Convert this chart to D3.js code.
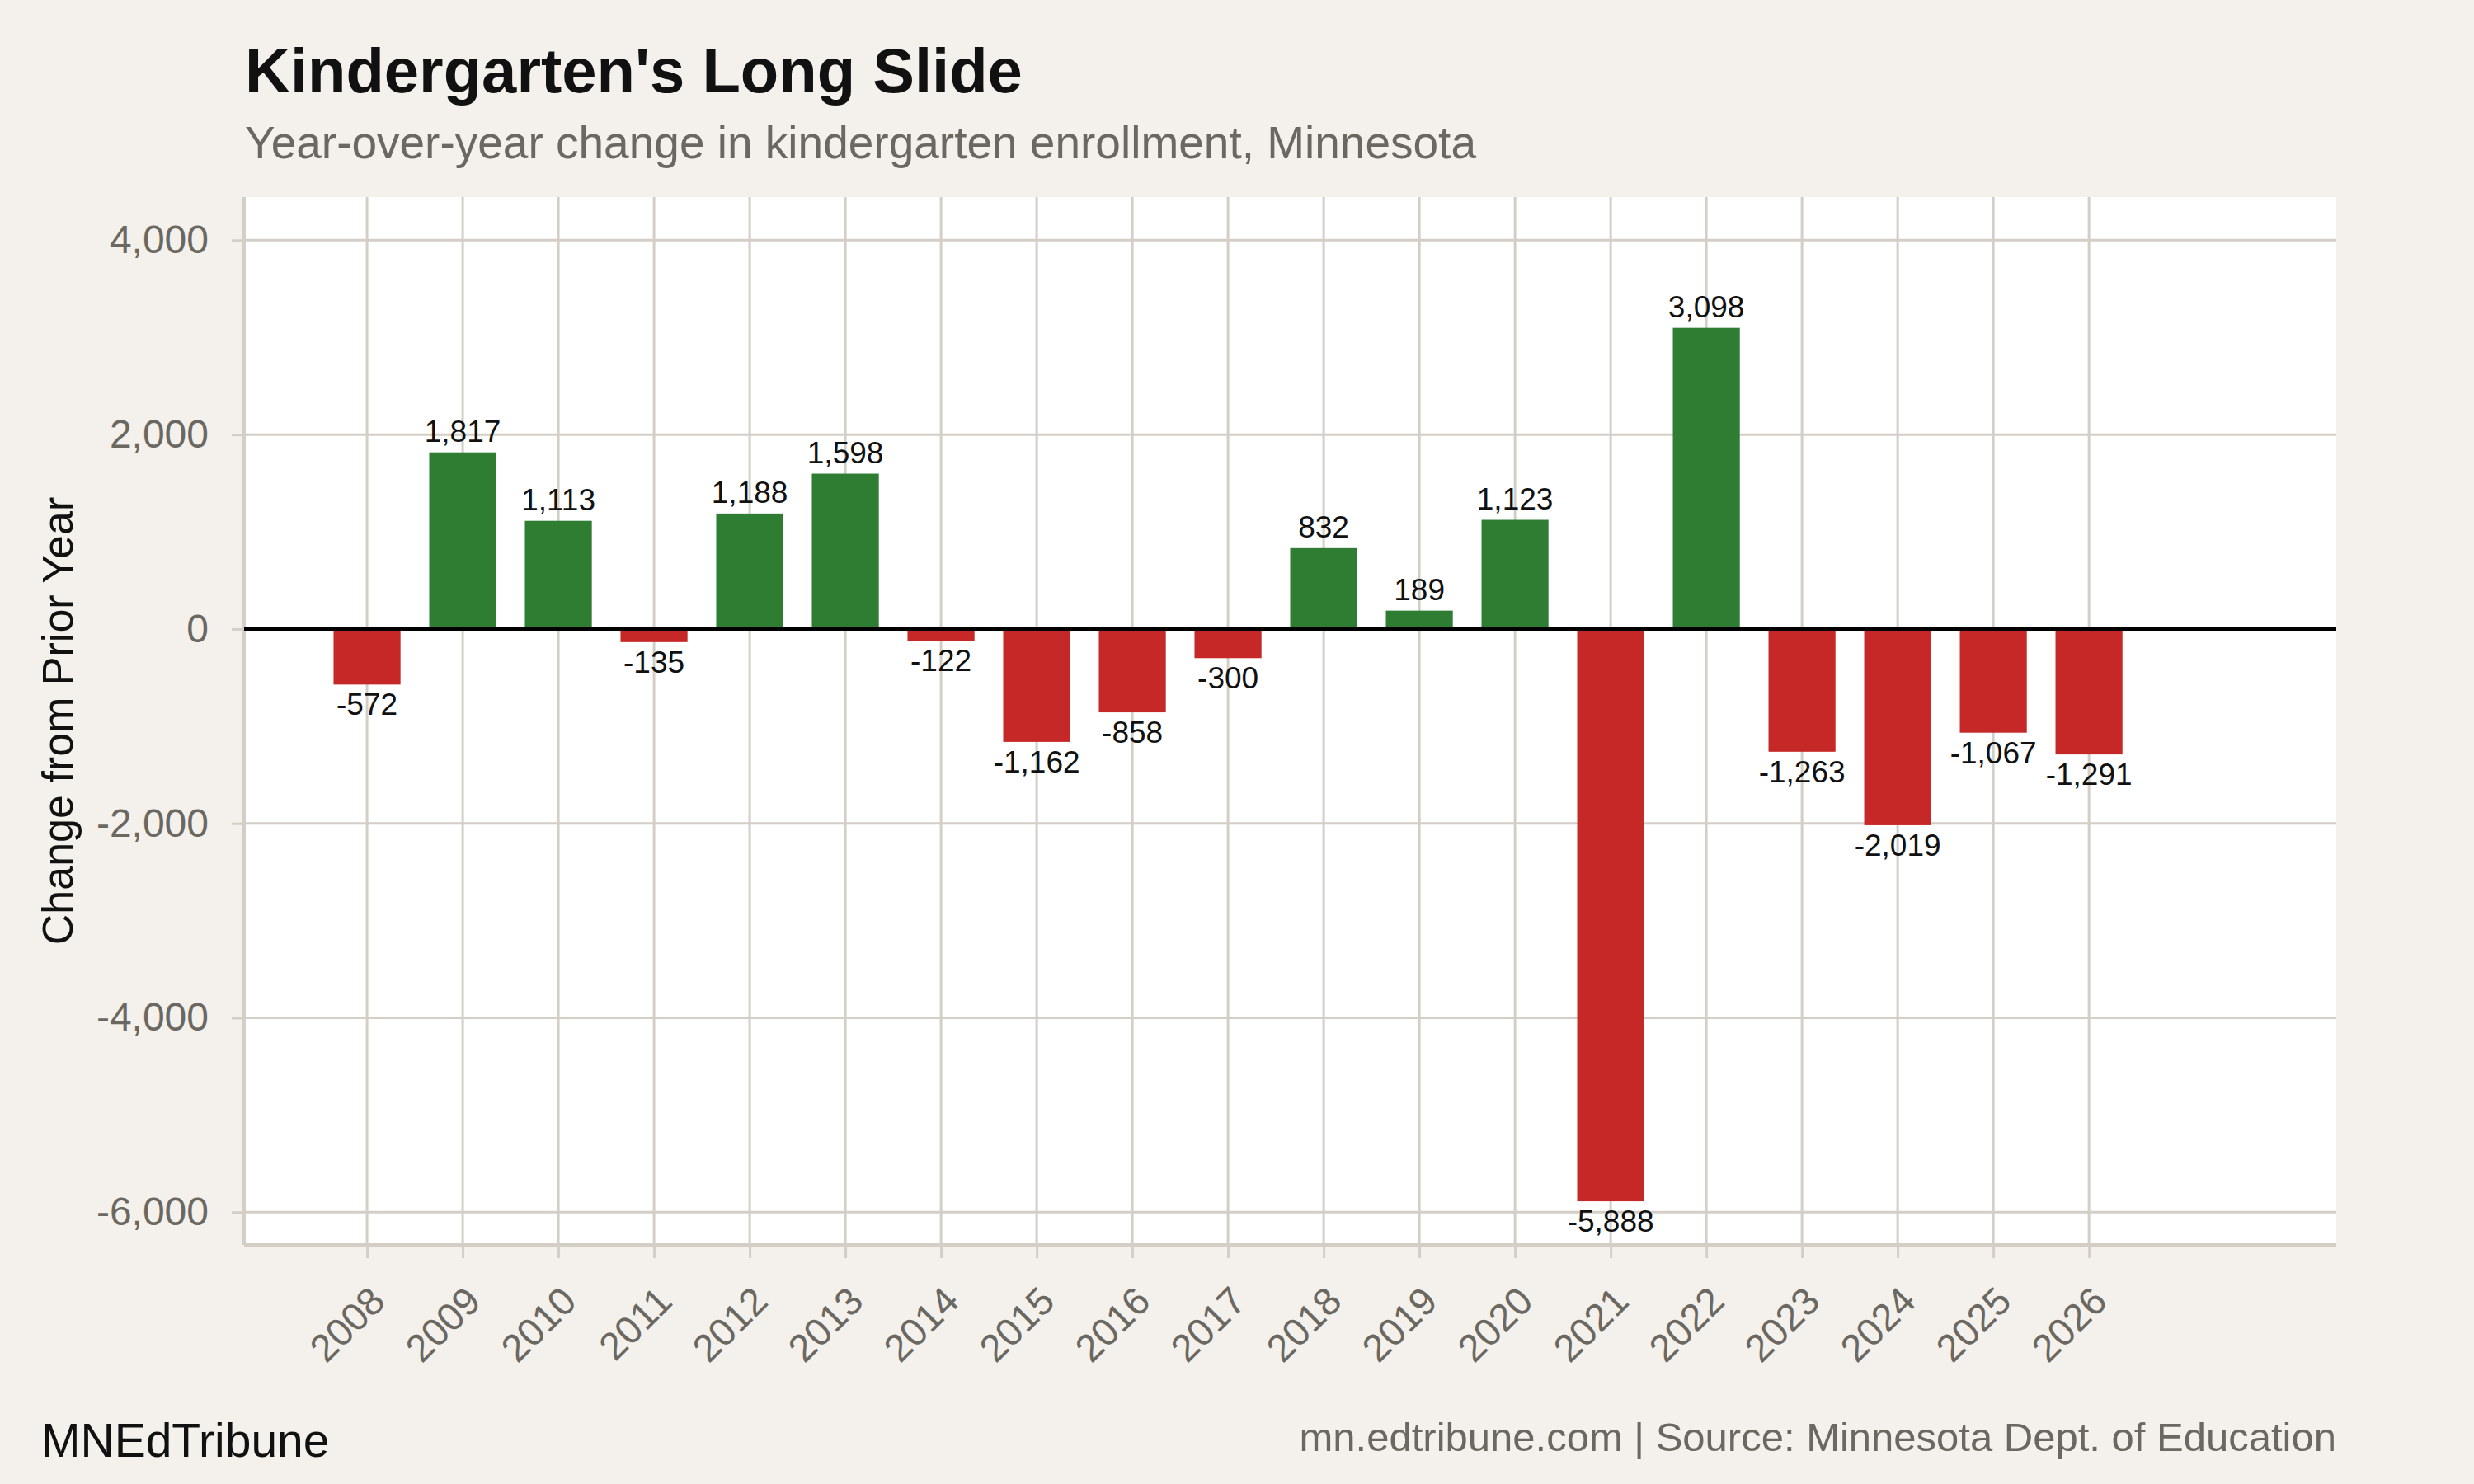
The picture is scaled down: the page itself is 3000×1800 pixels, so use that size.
<!DOCTYPE html>
<html>
<head>
<meta charset="utf-8">
<script src="https://cdn.jsdelivr.net/npm/d3@7"></script>
<style>
  body { margin: 0; background: #f4f1ec; }
  svg text { font-family: "Liberation Sans", Arial, Helvetica, sans-serif; }
</style>
</head>
<body>
<div id="chart"></div>
<script>
const years = [2008, 2009, 2010, 2011, 2012, 2013, 2014, 2015, 2016, 2017,
               2018, 2019, 2020, 2021, 2022, 2023, 2024, 2025, 2026];
const changes = [-572, 1817, 1113, -135, 1188, 1598, -122, -1162, -858, -300,
                 832, 189, 1123, -5888, 3098, -1263, -2019, -1067, -1291];
const yTicks = [-6000, -4000, -2000, 0, 2000, 4000];

const W = 3000, H = 1800;
const panel = { left: 296, right: 2833, top: 239, bottom: 1510 };

const bg = "#f4f1ec", gridCol = "#d3cec6", greyText = "#6b6862";
const green = "#2e7d32", red = "#c62828";

const fmt = v => d3.format(",")(v).replace("\u2212", "-");

const svg = d3.select("#chart").append("svg")
  .attr("width", W).attr("height", H);

svg.append("rect").attr("width", W).attr("height", H).attr("fill", bg);

// x is continuous on year, y on change
const x = d3.scaleLinear().domain([2006.715, 2028.585]).range([panel.left, panel.right]);
const y = d3.scaleLinear().domain([-6337, 4444]).range([panel.bottom, panel.top]);
const barW = 0.7 * (x(2009) - x(2008));

svg.append("rect")
  .attr("x", panel.left).attr("y", panel.top)
  .attr("width", panel.right - panel.left).attr("height", panel.bottom - panel.top)
  .attr("fill", "#ffffff");

// grid
svg.append("g").selectAll("line").data(yTicks).enter().append("line")
  .attr("x1", panel.left).attr("x2", panel.right)
  .attr("y1", d => y(d)).attr("y2", d => y(d))
  .attr("stroke", gridCol).attr("stroke-width", 3);

svg.append("g").selectAll("line").data(years).enter().append("line")
  .attr("x1", d => x(d)).attr("x2", d => x(d))
  .attr("y1", panel.top).attr("y2", panel.bottom)
  .attr("stroke", gridCol).attr("stroke-width", 3);

// y axis
const yAxis = svg.append("g")
  .attr("transform", `translate(${panel.left},0)`)
  .call(d3.axisLeft(y).tickValues(yTicks).tickSize(15).tickPadding(28).tickFormat(fmt));
yAxis.select(".domain").attr("stroke", gridCol).attr("stroke-width", 4)
  .attr("d", `M0,${panel.top}V${panel.bottom}`);
yAxis.selectAll(".tick line").attr("stroke", gridCol).attr("stroke-width", 3);
yAxis.selectAll(".tick text").attr("fill", greyText).style("font-size", "48px");

// x axis
const xAxis = svg.append("g")
  .attr("transform", `translate(0,${panel.bottom})`)
  .call(d3.axisBottom(x).tickValues(years).tickSize(16).tickFormat(d3.format("d")));
xAxis.select(".domain").attr("stroke", gridCol).attr("stroke-width", 4)
  .attr("d", `M${panel.left},0H${panel.right}`);
xAxis.selectAll(".tick line").attr("stroke", gridCol).attr("stroke-width", 3);
xAxis.selectAll(".tick text")
  .attr("fill", greyText).style("font-size", "47px")
  .attr("text-anchor", "end")
  .attr("y", 0).attr("dy", "0.72em")
  .attr("transform", "translate(0,47) rotate(-45)");

// bars
svg.append("g").selectAll("rect").data(years).enter().append("rect")
  .attr("x", d => x(d) - barW / 2)
  .attr("width", barW)
  .attr("y", (d, i) => y(Math.max(0, changes[i])))
  .attr("height", (d, i) => Math.abs(y(changes[i]) - y(0)))
  .attr("fill", (d, i) => changes[i] >= 0 ? green : red);

// zero line
svg.append("line")
  .attr("x1", panel.left).attr("x2", panel.right)
  .attr("y1", y(0)).attr("y2", y(0))
  .attr("stroke", "#000").attr("stroke-width", 4);

// value labels
svg.append("g").selectAll("text").data(years).enter().append("text")
  .attr("x", d => x(d))
  .attr("y", (d, i) => changes[i] >= 0 ? y(changes[i]) - 13 : y(changes[i]) + 37)
  .attr("text-anchor", "middle")
  .attr("fill", "#111")
  .style("font-size", "37px")
  .text((d, i) => fmt(changes[i]));

// y axis title
svg.append("text")
  .attr("transform", `translate(88,${(panel.top + panel.bottom) / 2}) rotate(-90)`)
  .attr("text-anchor", "middle")
  .attr("fill", "#111")
  .style("font-size", "52px")
  .text("Change from Prior Year");

// titles
svg.append("text")
  .attr("x", 297).attr("y", 112)
  .attr("fill", "#111")
  .style("font-size", "76px").style("font-weight", "bold")
  .text("Kindergarten's Long Slide");

svg.append("text")
  .attr("x", 297).attr("y", 192)
  .attr("fill", greyText)
  .style("font-size", "55px")
  .text("Year-over-year change in kindergarten enrollment, Minnesota");

// footer
svg.append("text")
  .attr("x", 50).attr("y", 1767)
  .attr("fill", "#111")
  .style("font-size", "57px")
  .text("MNEdTribune");

svg.append("text")
  .attr("x", panel.right).attr("y", 1760)
  .attr("text-anchor", "end")
  .attr("fill", greyText)
  .style("font-size", "49px")
  .text("mn.edtribune.com | Source: Minnesota Dept. of Education");
</script>
</body>
</html>
